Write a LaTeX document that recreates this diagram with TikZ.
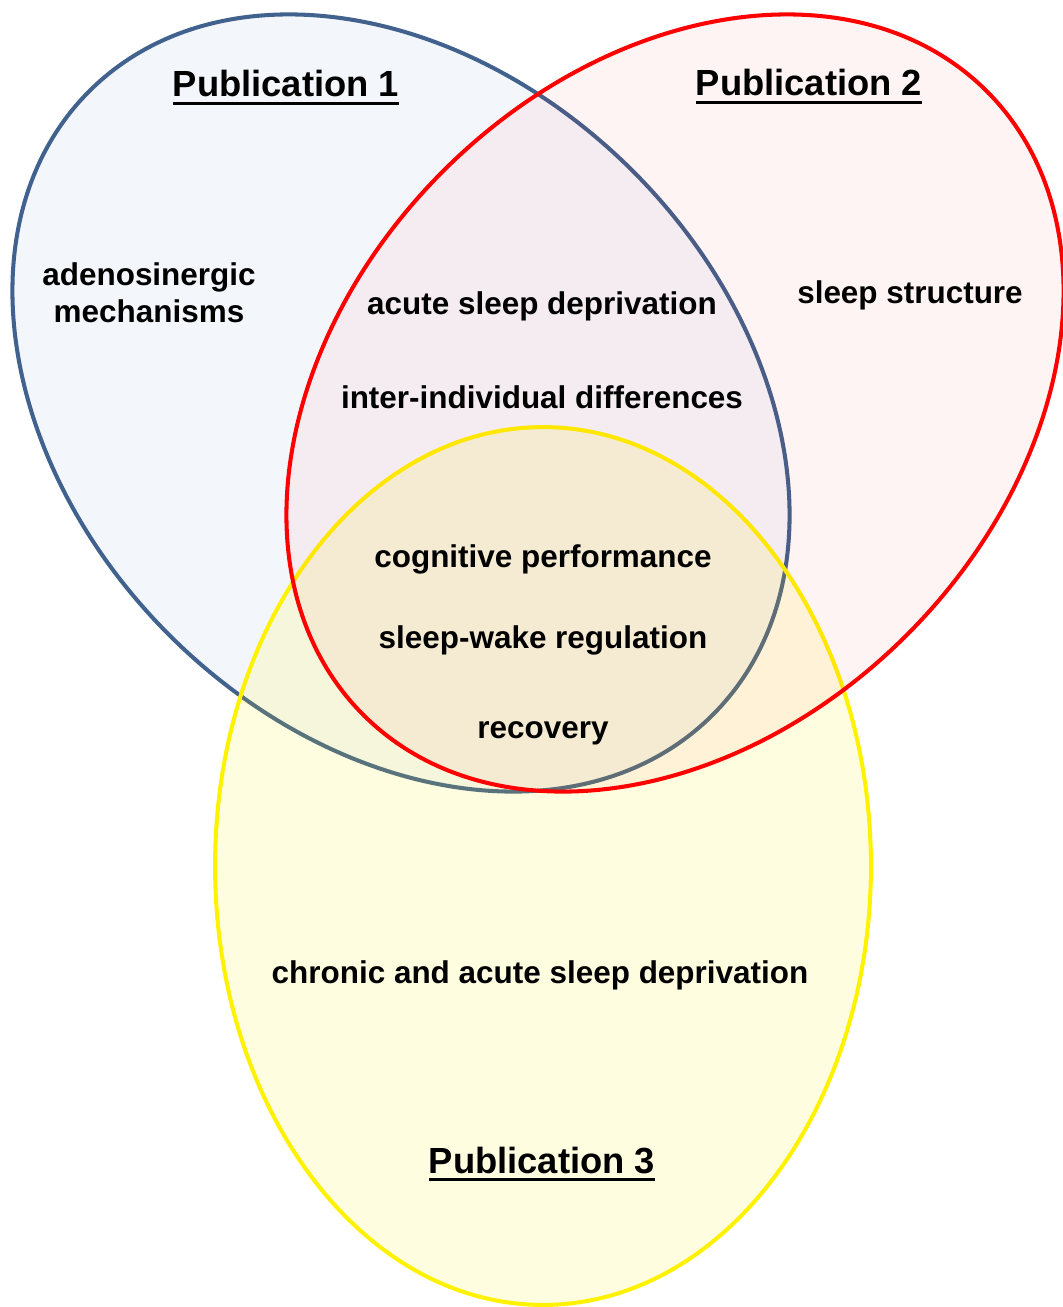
\documentclass[tikz,border=0pt]{standalone}
\usepackage{fontspec}
\setmainfont{Liberation Sans}
\usepackage{tikz}

\definecolor{pubblue}{RGB}{65,98,142}
\definecolor{pubbluefill}{RGB}{79,129,189}
\newcommand{\pubtitle}[1]{\sbox0{#1}\rlap{\rule[-4.8pt]{\wd0}{2pt}}\usebox0}

\begin{document}
\begin{tikzpicture}[
  x=0.02cm, y=-0.02cm,
  font=\bfseries\fontsize{17.9}{21}\selectfont,
  set/.style={line width=2.3pt},
  topic/.style={anchor=base, inner sep=0pt, align=center},
  pub/.style={anchor=base, inner sep=0pt, font=\bfseries\fontsize{20.7}{24}\selectfont}
]
\useasboundingbox (0,0) rectangle (1062,1307);
% the three publications
\draw[set, draw=pubblue, fill=pubbluefill, fill opacity=0.065, shift={(401,403)}, rotate=-45]
  (0,0) ellipse [x radius=8.82cm, y radius=6.56cm];
\draw[set, draw=yellow, fill=yellow, fill opacity=0.12]
  (543,866) ellipse [x radius=6.56cm, y radius=8.78cm];
\draw[set, draw=red, fill=red, fill opacity=0.045, shift={(675,403)}, rotate=45]
  (0,0) ellipse [x radius=8.82cm, y radius=6.56cm];
% titles
\node[pub] (pub1) at (286,97) {\pubtitle{Publication 1}};
\node[pub] (pub2) at (809,96) {\pubtitle{Publication 2}};
\node[pub] (pub3) at (542,1173) {\pubtitle{Publication 3}};
% topics
\node[topic, anchor=north] (adeno) at (149,262) {adenosinergic\\mechanisms};
\node[topic] (acute) at (542,315) {acute sleep deprivation};
\node[topic] (struct) at (910,303) {sleep structure};
\node[topic] (indiv) at (542,408) {inter-individual differences};
\node[topic] (cogn) at (543,567) {cognitive performance};
\node[topic] (swreg) at (543,648) {sleep-wake regulation};
\node[topic] (recov) at (543,738) {recovery};
\node[topic] (chronic) at (540,983) {chronic and acute sleep deprivation};
\end{tikzpicture}
\end{document}
